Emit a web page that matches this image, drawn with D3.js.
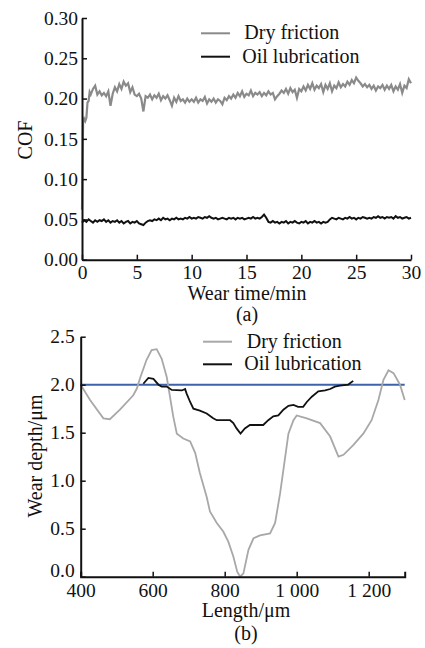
<!DOCTYPE html>
<html><head><meta charset="utf-8">
<script src="https://cdn.jsdelivr.net/npm/d3@7"></script>
<style>
html,body{margin:0;padding:0;background:#fff;}
text{font-family:"Liberation Serif","Times New Roman",serif;fill:#111;}
</style></head>
<body>
<svg id="c" width="425" height="648"></svg>
<script>
// ---------- Data: panel (a) COF vs wear time ----------
const seriesNames = ["Dry friction", "Oil lubrication"];
const cofTicks = [0, 0.05, 0.10, 0.15, 0.20, 0.25, 0.30];
const timeTicks = [0, 5, 10, 15, 20, 25, 30];

const dryStartTime = [0, 0.05, 0.1, 0.2, 0.3, 0.4, 0.5, 0.6, 0.7, 0.8];
const dryStartCOF  = [0.062, 0.12, 0.17, 0.175, 0.172, 0.176, 0.195, 0.197, 0.208, 0.205];
// sampled every 0.2 min from 1.0 to 30.0 min
const dryCOF = [
  0.212,0.216,0.205,0.209,0.204,0.207,0.203,0.209,0.191,0.206,0.214,
  0.209,0.218,0.212,0.221,0.216,0.219,0.208,0.214,
  0.205,0.203,0.206,0.200,0.184,0.203,0.201,
  0.205,0.199,0.204,0.201,0.206,0.198,0.203,0.200,0.204,0.198,
  0.191,0.201,0.196,0.203,0.197,0.199,0.195,0.200,0.196,0.199,
  0.196,0.201,0.195,0.199,0.197,0.202,0.194,0.199,0.196,0.200,
  0.195,0.199,0.197,0.193,0.201,0.198,0.203,0.200,0.205,0.201,
  0.207,0.203,0.209,0.202,0.206,0.204,0.210,0.203,0.207,0.205,
  0.208,0.203,0.207,0.204,0.209,0.205,0.207,0.199,0.203,0.206,
  0.210,0.207,0.212,0.206,0.213,0.208,0.211,0.201,0.212,0.209,
  0.215,0.210,0.217,0.212,0.219,0.211,0.216,0.213,0.218,0.208,
  0.217,0.212,0.219,0.209,0.216,0.213,0.220,0.214,0.218,0.215,
  0.221,0.217,0.223,0.219,0.226,0.222,0.219,0.215,0.218,0.214,
  0.217,0.212,0.216,0.210,0.215,0.213,0.217,0.211,0.216,0.212,
  0.217,0.209,0.215,0.211,0.218,0.207,0.216,0.213,0.224,0.219
];
// sampled every 0.2 min from 0 to 30.0 min
const oilCOF = [
  0.046,0.049,0.047,0.050,0.048,0.046,0.049,0.047,0.049,0.048,0.050,
  0.047,0.049,0.046,0.048,0.047,0.049,0.046,0.048,0.045,0.047,
  0.048,0.045,0.047,0.046,0.048,0.045,0.044,0.043,0.046,0.048,
  0.049,0.048,0.050,0.049,0.051,0.049,0.052,0.050,0.051,0.049,
  0.051,0.050,0.052,0.050,0.051,0.050,0.052,0.051,0.053,0.051,
  0.052,0.051,0.053,0.052,0.051,0.053,0.052,0.054,0.052,0.051,
  0.052,0.050,0.051,0.052,0.051,0.050,0.052,0.051,0.052,0.050,
  0.052,0.051,0.052,0.050,0.051,0.052,0.051,0.053,0.051,0.052,
  0.051,0.053,0.056,0.052,0.047,0.046,0.048,0.046,0.047,0.045,
  0.047,0.046,0.048,0.045,0.047,0.046,0.048,0.046,0.045,0.047,
  0.046,0.048,0.045,0.047,0.046,0.048,0.046,0.047,0.045,0.047,
  0.046,0.047,0.050,0.052,0.051,0.050,0.052,0.051,0.050,0.052,
  0.051,0.053,0.051,0.052,0.050,0.052,0.051,0.053,0.052,0.051,
  0.052,0.051,0.053,0.052,0.054,0.052,0.053,0.051,0.053,0.052,
  0.053,0.051,0.054,0.052,0.053,0.051,0.052,0.053,0.051,0.052
];

// ---------- Data: panel (b) wear depth profile ----------
const depthTicks = [0, 0.5, 1.0, 1.5, 2.0, 2.5];
const lengthTicks = [400, 600, 800, 1000, 1200];
const lengthTickLabels = ["400", "600", "800", "1 000", "1 200"];
const referenceDepth = 2.0;

const dryLength = [400,426,463,481,509,546,556,565,583,597,611,625,639,648,657,667,685,704,718,731,750,759,778,796,810,824,835,843,852,866,880,898,926,940,954,967,977,991,1000,1028,1065,1093,1116,1130,1157,1185,1208,1227,1241,1255,1269,1287,1300];
const dryDepth  = [2.00,1.84,1.65,1.64,1.74,1.89,1.96,2.07,2.26,2.36,2.37,2.27,2.08,1.875,1.67,1.49,1.44,1.41,1.29,1.08,0.83,0.68,0.56,0.47,0.365,0.21,0.05,0.0,0.035,0.28,0.40,0.43,0.45,0.56,0.87,1.22,1.49,1.63,1.68,1.65,1.60,1.46,1.25,1.27,1.37,1.49,1.63,1.84,2.05,2.15,2.12,2.00,1.84];

const oilLength = [574,588,602,616,625,639,653,681,690,694,704,713,731,750,768,778,815,824,833,844,856,870,907,921,935,949,963,977,991,1004,1018,1028,1042,1060,1079,1093,1106,1120,1143,1148,1157];
const oilDepth  = [2.01,2.07,2.06,2.00,1.98,1.98,1.945,1.94,1.955,1.91,1.82,1.75,1.73,1.70,1.65,1.63,1.63,1.60,1.545,1.49,1.545,1.58,1.58,1.63,1.67,1.68,1.74,1.78,1.79,1.77,1.77,1.82,1.875,1.93,1.94,1.955,1.98,1.99,2.00,2.015,2.04];

// ---------- Drawing ----------
const svg = d3.select("#c");
const FS = 20, TFS = 19.5;
const grayA = "#8a8a8a", grayB = "#a8a8a8", black = "#111", blue = "#3d63ad";

// Panel (a)
const xa = d3.scaleLinear().domain([0, 30]).range([82, 411]);
const ya = d3.scaleLinear().domain([0, 0.30]).range([259.7, 18]);

const dryTime = dryStartTime.concat(d3.range(dryCOF.length).map(i => 1 + i * 0.2));
const dryAll = dryStartCOF.concat(dryCOF);
const oilTime = d3.range(oilCOF.length).map(i => i * 0.2);

const ga = svg.append("g");
const lineA = d3.line().x(d => xa(d[0])).y(d => ya(d[1]));
ga.append("path").datum(dryTime.map((t, i) => [t, dryAll[i]]))
  .attr("d", lineA).attr("fill", "none").attr("stroke", grayA).attr("stroke-width", 2.2);
ga.append("path").datum(oilTime.map((t, i) => [t, oilCOF[i]]))
  .attr("d", lineA).attr("fill", "none").attr("stroke", black).attr("stroke-width", 2);

ga.append("g").attr("transform", `translate(${xa(0)},0)`)
  .call(d3.axisLeft(ya).tickValues(cofTicks).tickFormat(d3.format(".2f"))
    .tickSizeInner(-5).tickSizeOuter(0).tickPadding(4));
ga.append("g").attr("transform", `translate(0,${ya(0)})`)
  .call(d3.axisBottom(xa).tickValues(timeTicks).tickFormat(d3.format("d"))
    .tickSizeInner(-5).tickSizeOuter(0).tickPadding(5));

ga.append("text").attr("x", 247).attr("y", 300).attr("text-anchor", "middle")
  .attr("font-size", FS).text("Wear time/min");
ga.append("text").attr("x", 247).attr("y", 321).attr("text-anchor", "middle")
  .attr("font-size", FS).text("(a)");
ga.append("text").attr("transform", "translate(32,140) rotate(-90)").attr("text-anchor", "middle")
  .attr("font-size", FS).text("COF");

// legend (a)
const legA = [[grayA, 33.3, 39.3, 244.3], [black, 56.7, 62.7, 242.3]];
legA.forEach((l, i) => {
  ga.append("line").attr("x1", 201).attr("x2", 230).attr("y1", l[1]).attr("y2", l[1])
    .attr("stroke", l[0]).attr("stroke-width", 2);
  ga.append("text").attr("x", l[3]).attr("y", l[2]).attr("font-size", FS).text(seriesNames[i]);
});

// Panel (b)
const xb = d3.scaleLinear().domain([400, 1300]).range([80.7, 404.7]);
const yb = d3.scaleLinear().domain([0, 2.5]).range([576.7, 336.7]);

const gb = svg.append("g");
gb.append("line").attr("x1", xb(400)).attr("x2", xb(1300))
  .attr("y1", yb(referenceDepth)).attr("y2", yb(referenceDepth))
  .attr("stroke", blue).attr("stroke-width", 2);
const lineB = d3.line().x(d => xb(d[0])).y(d => yb(d[1]));
gb.append("path").datum(dryLength.map((l, i) => [l, dryDepth[i]]))
  .attr("d", lineB).attr("fill", "none").attr("stroke", grayB).attr("stroke-width", 1.8);
gb.append("path").datum(oilLength.map((l, i) => [l, oilDepth[i]]))
  .attr("d", lineB).attr("fill", "none").attr("stroke", black).attr("stroke-width", 1.8);

const axYb = gb.append("g").attr("transform", `translate(${xb(400)},0)`)
  .call(d3.axisLeft(yb).tickValues(depthTicks).tickFormat(d3.format(".1f"))
    .tickSizeInner(-5).tickSizeOuter(0).tickPadding(6));
// the "0.0" label sits slightly above the axis corner, as in the reference
axYb.selectAll(".tick").filter(d => d === 0).select("text").attr("y", -6);
gb.append("g").attr("transform", `translate(0,${yb(0)})`)
  .call(d3.axisBottom(xb).tickValues(lengthTicks).tickFormat((d, i) => lengthTickLabels[i])
    .tickSizeInner(-5).tickSizeOuter(-5).tickPadding(6));

gb.append("text").attr("x", 246).attr("y", 617).attr("text-anchor", "middle")
  .attr("font-size", FS).text("Length/μm");
gb.append("text").attr("x", 246).attr("y", 640).attr("text-anchor", "middle")
  .attr("font-size", FS).text("(b)");
gb.append("text").attr("transform", "translate(42,456) rotate(-90)").attr("text-anchor", "middle")
  .attr("font-size", FS).text("Wear depth/μm");

const legB = [[grayB, 341.7, 347.7, 246.7], [black, 364.3, 370, 244.3]];
legB.forEach((l, i) => {
  gb.append("line").attr("x1", 203).attr("x2", 232).attr("y1", l[1]).attr("y2", l[1])
    .attr("stroke", l[0]).attr("stroke-width", 2);
  gb.append("text").attr("x", l[3]).attr("y", l[2]).attr("font-size", FS).text(seriesNames[i]);
});

// axis styling
svg.selectAll(".domain").attr("stroke", black).attr("stroke-width", 2);
svg.selectAll(".tick line").attr("stroke", black).attr("stroke-width", 1.5);
svg.selectAll(".tick text").attr("font-size", TFS).attr("font-family", "Liberation Serif, serif").attr("fill", "#111");
</script>
</body></html>
